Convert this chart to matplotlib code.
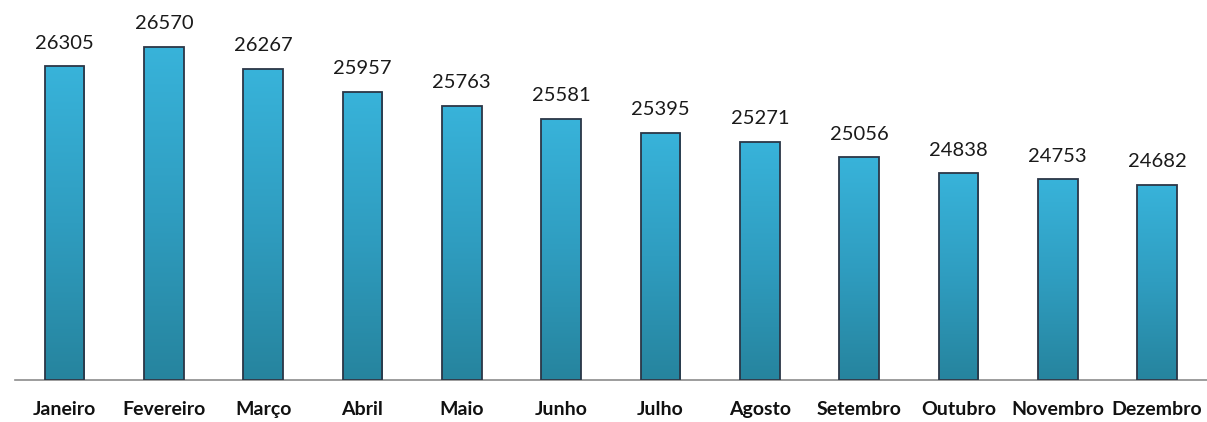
import matplotlib.pyplot as plt
import numpy as np
from matplotlib.colors import LinearSegmentedColormap

meses = ["Janeiro", "Fevereiro", "Março", "Abril", "Maio", "Junho",
         "Julho", "Agosto", "Setembro", "Outubro", "Novembro", "Dezembro"]
valores = [26305, 26570, 26267, 25957, 25763, 25581,
           25395, 25271, 25056, 24838, 24753, 24682]

base = 22000
topo = 27000

plt.rcParams['font.family'] = ['Lato', 'DejaVu Sans']

fig = plt.figure(figsize=(12.07, 4.22), dpi=100)
ax = fig.add_axes([14.85 / 1207, 42 / 422, (1206.7 - 14.85) / 1207, (380 - 15.6) / 422])

x = np.arange(len(meses))
bars = ax.bar(x, [v - base for v in valores], bottom=base, width=0.4,
              facecolor='none', edgecolor='#2b3646', linewidth=1.3, zorder=3)

# degradê vertical em cada barra (claro em cima, escuro embaixo)
cmap = LinearSegmentedColormap.from_list('azul', ['#26849e', '#2f9dc0', '#38b3da'])
grad = np.linspace(0, 1, 256).reshape(-1, 1)
for b, v in zip(bars, valores):
    x0 = b.get_x()
    im = ax.imshow(grad, cmap=cmap, origin='lower', aspect='auto',
                   extent=(x0, x0 + b.get_width(), base, v), zorder=2)
    im.set_clip_path(b)
    ax.text(b.get_x() + b.get_width() / 2, v + 200, str(v),
            ha='center', va='bottom', fontsize=14.5, color='#1a1a1a')

ax.set_xlim(-0.5, len(meses) - 0.5)
ax.set_ylim(base, topo)
ax.set_xticks(x)
ax.set_xticklabels(meses, fontsize=14, fontweight='bold', color='#111111')
ax.tick_params(axis='x', length=0, pad=15)
ax.set_yticks([])
for lado in ['top', 'left', 'right']:
    ax.spines[lado].set_visible(False)
ax.spines['bottom'].set_color('#8c8c8c')
ax.spines['bottom'].set_linewidth(1.2)

fig.savefig("out.png", dpi=100)
